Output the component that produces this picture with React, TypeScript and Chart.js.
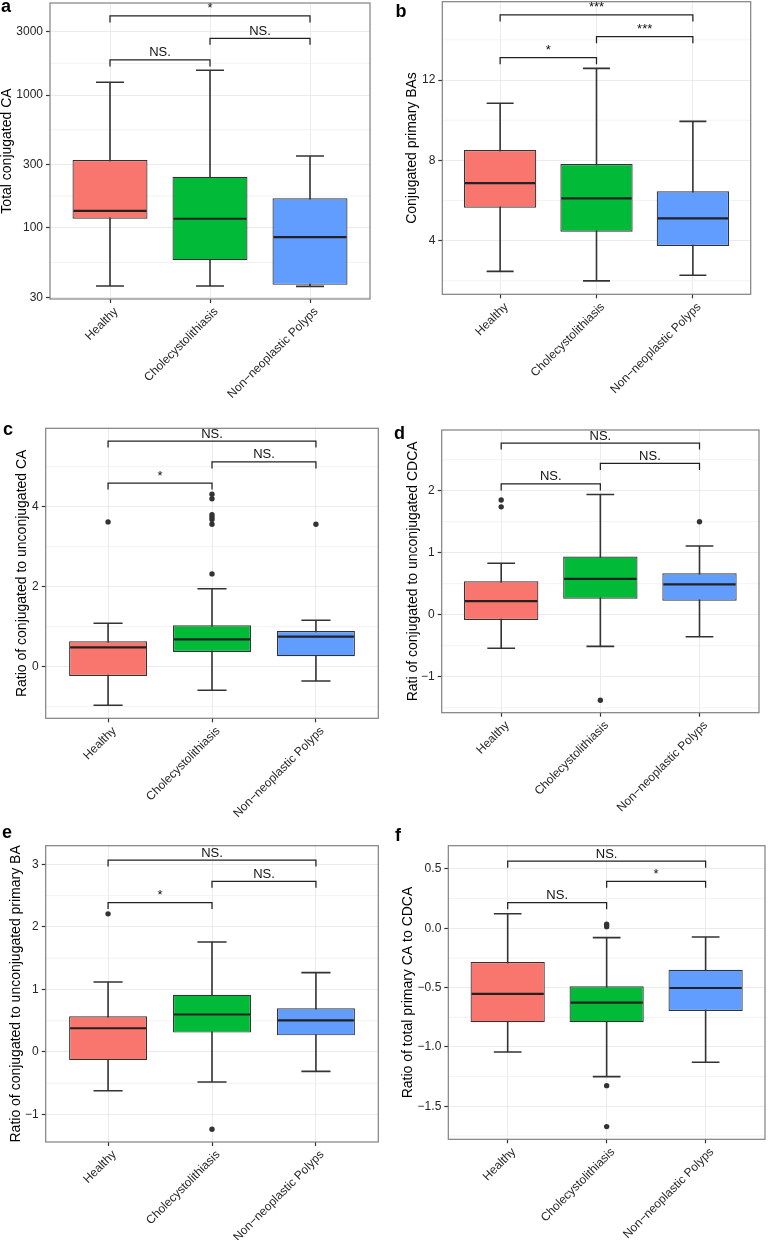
import React, { useEffect, useRef } from "react";
import { Chart, registerables } from "chart.js";
Chart.register(...registerables);

const FONT = '"Liberation Sans", Arial, Helvetica, sans-serif';

// ---------- shared ----------
const categories = ["Healthy", "Cholecystolithiasis", "Non\u2212neoplastic Polyps"];
const boxFill = ["#F8766D", "#00BA38", "#619CFF"];
const bracketPairs = [[0, 1], [1, 2], [0, 2]];

// ---------- panel a ----------
const aTitle = "Total conjugated CA";
const aLow = [36.5, 36.5, 36.2];
const aQ1 = [117, 57, 37.2];
const aMedian = [134, 117, 85];
const aQ3 = [324, 242, 167];
const aHigh = [1247, 1535, 347];
const aOutliers = [[], [], []];
const aBracketY = [1836, 2675, 3940];
const aBracketLabels = ["NS.", "NS.", "*"];
const aTicks = [30, 100, 300, 1000, 3000];
const aTickLabels = ["30", "100", "300", "1000", "3000"];
const aMinor = [54.8, 173.2, 547.7, 1732];
const aRange = [29.1, 4930];

// ---------- panel b ----------
const bTitle = "Conjugated primary BAs";
const bLow = [2.47, 2.0, 2.28];
const bQ1 = [5.64, 4.45, 3.74];
const bMedian = [6.87, 6.11, 5.11];
const bQ3 = [8.51, 7.82, 6.46];
const bHigh = [10.84, 12.58, 9.94];
const bOutliers = [[], [], []];
const bBracketY = [13.11, 14.16, 15.24];
const bBracketLabels = ["*", "***", "***"];
const bTicks = [4, 8, 12];
const bTickLabels = ["4", "8", "12"];
const bMinor = [2, 6, 10, 14];
const bRange = [1.33, 15.9];

// ---------- panel c ----------
const cTitle = "Ratio of conjugated to unconjugated CA";
const cLow = [-0.965, -0.59, -0.357];
const cQ1 = [-0.233, 0.368, 0.26];
const cMedian = [0.485, 0.685, 0.75];
const cQ3 = [0.635, 1.035, 0.893];
const cHigh = [1.085, 1.95, 1.16];
const cOutliers = [[3.62], [4.31, 4.2, 3.8, 3.74, 3.68, 3.56, 2.32], [3.56]];
const cBracketY = [4.59, 5.12, 5.64];
const cBracketLabels = ["*", "NS.", "NS."];
const cTicks = [0, 2, 4];
const cTickLabels = ["0", "2", "4"];
const cMinor = [-1, 1, 3, 5];
const cRange = [-1.29, 5.96];

// ---------- panel d ----------
const dTitle = "Rati of conjugated to unconjugated CDCA";
const dLow = [-0.54, -0.51, -0.355];
const dQ1 = [-0.085, 0.26, 0.226];
const dMedian = [0.22, 0.58, 0.49];
const dQ3 = [0.54, 0.94, 0.67];
const dHigh = [0.83, 1.94, 1.11];
const dOutliers = [[1.85, 1.74], [-1.38], [1.5]];
const dBracketY = [2.11, 2.44, 2.77];
const dBracketLabels = ["NS.", "NS.", "NS."];
const dTicks = [-1, 0, 1, 2];
const dTickLabels = ["\u22121", "0", "1", "2"];
const dMinor = [-1.5, -0.5, 0.5, 1.5, 2.5];
const dRange = [-1.58, 2.98];

// ---------- panel e ----------
const eTitle = "Ratio of conjugated to unconjugated primary BA";
const eLow = [-0.62, -0.48, -0.31];
const eQ1 = [-0.13, 0.31, 0.266];
const eMedian = [0.38, 0.6, 0.506];
const eQ3 = [0.57, 0.915, 0.7];
const eHigh = [1.12, 1.76, 1.27];
const eOutliers = [[2.21], [-1.235], []];
const eBracketY = [2.39, 2.73, 3.07];
const eBracketLabels = ["*", "NS.", "NS."];
const eTicks = [-1, 0, 1, 2, 3];
const eTickLabels = ["\u22121", "0", "1", "2", "3"];
const eMinor = [-0.5, 0.5, 1.5, 2.5];
const eRange = [-1.44, 3.3];

// ---------- panel f ----------
const fTitle = "Ratio of total primary CA to CDCA";
const fLow = [-1.042, -1.25, -1.129];
const fQ1 = [-0.792, -0.792, -0.697];
const fMedian = [-0.553, -0.627, -0.503];
const fQ3 = [-0.284, -0.489, -0.349];
const fHigh = [0.123, -0.079, -0.073];
const fOutliers = [[], [0.034, 0.014, -1.326, -1.671], []];
const fBracketY = [0.216, 0.396, 0.566];
const fBracketLabels = ["NS.", "*", "NS."];
const fTicks = [-1.5, -1, -0.5, 0, 0.5];
const fTickLabels = ["\u22121.5", "\u22121.0", "\u22120.5", "0.0", "0.5"];
const fMinor = [-1.75, -1.25, -0.75, -0.25, 0.25];
const fRange = [-1.778, 0.696];

// ---------- layout (positions/sizes only) ----------
const layouts = {
  a: { left: 0, top: 0, W: 384, H: 400, area: { l: 50, t: 3, r: 370, b: 299 }, titleX: 11, letter: [1, 12] },
  b: { left: 384, top: 0, W: 385, H: 400, area: { l: 58.3, t: 1.7, r: 366.7, b: 294.3 }, titleX: 31.5, letter: [11.5, 16.5] },
  c: { left: 0, top: 400, W: 384, H: 420, area: { l: 45.7, t: 28.3, r: 378.3, b: 318.3 }, titleX: 26, letter: [3, 35] },
  d: { left: 384, top: 400, W: 385, H: 420, area: { l: 57.7, t: 30, r: 375, b: 312.7 }, titleX: 32.5, letter: [10, 39] },
  e: { left: 0, top: 820, W: 384, H: 420, area: { l: 45.7, t: 25.7, r: 378.3, b: 322 }, titleX: 19.5, letter: [2, 18] },
  f: { left: 384, top: 820, W: 385, H: 420, area: { l: 64.3, t: 25.7, r: 382.3, b: 319.3 }, titleX: 28, letter: [11, 21] },
};

const panels = [
  { letter: "a", log: true, title: aTitle, low: aLow, q1: aQ1, med: aMedian, q3: aQ3, high: aHigh, out: aOutliers, by: aBracketY, bl: aBracketLabels, ticks: aTicks, tickLabels: aTickLabels, minor: aMinor, range: aRange },
  { letter: "b", log: false, title: bTitle, low: bLow, q1: bQ1, med: bMedian, q3: bQ3, high: bHigh, out: bOutliers, by: bBracketY, bl: bBracketLabels, ticks: bTicks, tickLabels: bTickLabels, minor: bMinor, range: bRange },
  { letter: "c", log: false, title: cTitle, low: cLow, q1: cQ1, med: cMedian, q3: cQ3, high: cHigh, out: cOutliers, by: cBracketY, bl: cBracketLabels, ticks: cTicks, tickLabels: cTickLabels, minor: cMinor, range: cRange },
  { letter: "d", log: false, title: dTitle, low: dLow, q1: dQ1, med: dMedian, q3: dQ3, high: dHigh, out: dOutliers, by: dBracketY, bl: dBracketLabels, ticks: dTicks, tickLabels: dTickLabels, minor: dMinor, range: dRange },
  { letter: "e", log: false, title: eTitle, low: eLow, q1: eQ1, med: eMedian, q3: eQ3, high: eHigh, out: eOutliers, by: eBracketY, bl: eBracketLabels, ticks: eTicks, tickLabels: eTickLabels, minor: eMinor, range: eRange },
  { letter: "f", log: false, title: fTitle, low: fLow, q1: fQ1, med: fMedian, q3: fQ3, high: fHigh, out: fOutliers, by: fBracketY, bl: fBracketLabels, ticks: fTicks, tickLabels: fTickLabels, minor: fMinor, range: fRange },
];

const CAP = 0.14;
const HALF_BOX = 0.375;
const DARK = "#333333";

function Panel({ p }: { p: any }) {
  const ref = useRef<HTMLCanvasElement>(null);
  const L = (layouts as any)[p.letter];
  useEffect(() => {
    const canvas = ref.current!;
    const { W, H, area } = L;
    const plugin = {
      id: "boxExtras" + p.letter,
      beforeDatasetsDraw(chart: any) {
        const { ctx, chartArea: ca } = chart;
        const x = chart.scales.x, y = chart.scales.y;
        ctx.save();
        ctx.strokeStyle = "#f2f2f2";
        ctx.lineWidth = 1;
        p.minor.forEach((v: number) => {
          const py = y.getPixelForValue(v);
          ctx.beginPath();
          ctx.moveTo(ca.left, py);
          ctx.lineTo(ca.right, py);
          ctx.stroke();
        });
        ctx.strokeStyle = DARK;
        ctx.lineWidth = 1.6;
        categories.forEach((_, i) => {
          const cx = x.getPixelForValue(i);
          const x0 = x.getPixelForValue(i - CAP);
          const x1 = x.getPixelForValue(i + CAP);
          const yl = y.getPixelForValue(p.low[i]);
          const yh = y.getPixelForValue(p.high[i]);
          ctx.beginPath();
          ctx.moveTo(cx, yl); ctx.lineTo(cx, yh);
          ctx.moveTo(x0, yl); ctx.lineTo(x1, yl);
          ctx.moveTo(x0, yh); ctx.lineTo(x1, yh);
          ctx.stroke();
        });
        ctx.restore();
      },
      afterDatasetsDraw(chart: any) {
        const { ctx } = chart;
        const x = chart.scales.x, y = chart.scales.y;
        ctx.save();
        ctx.strokeStyle = "#222222";
        ctx.lineWidth = 2.2;
        categories.forEach((_, i) => {
          const py = y.getPixelForValue(p.med[i]);
          ctx.beginPath();
          ctx.moveTo(x.getPixelForValue(i - HALF_BOX) + 1, py);
          ctx.lineTo(x.getPixelForValue(i + HALF_BOX) - 1, py);
          ctx.stroke();
        });
        ctx.restore();
      },
      afterDraw(chart: any) {
        const { ctx, chartArea: ca } = chart;
        const x = chart.scales.x, y = chart.scales.y;
        ctx.save();
        // frame
        ctx.strokeStyle = "#808080";
        ctx.lineWidth = 1.2;
        ctx.strokeRect(ca.left, ca.top, ca.right - ca.left, ca.bottom - ca.top);
        // significance brackets
        ctx.strokeStyle = "#222222";
        ctx.lineWidth = 1.25;
        ctx.fillStyle = "#111111";
        ctx.font = `13px ${FONT}`;
        ctx.textAlign = "center";
        ctx.textBaseline = "alphabetic";
        bracketPairs.forEach(([i, j], k) => {
          const x1 = x.getPixelForValue(i), x2 = x.getPixelForValue(j);
          const py = y.getPixelForValue(p.by[k]);
          const tip = 6.5;
          ctx.beginPath();
          ctx.moveTo(x1, py + tip);
          ctx.lineTo(x1, py);
          ctx.lineTo(x2, py);
          ctx.lineTo(x2, py + tip);
          ctx.stroke();
          ctx.fillText(p.bl[k], (x1 + x2) / 2, py - 3.5);
        });
        // category labels
        ctx.fillStyle = "#262626";
        ctx.font = `12px ${FONT}`;
        ctx.textAlign = "right";
        ctx.textBaseline = "top";
        categories.forEach((c, i) => {
          const px = x.getPixelForValue(i);
          ctx.save();
          ctx.translate(px + 2, ca.bottom + 6.5);
          ctx.rotate(-Math.PI / 4);
          ctx.fillText(c, 0, 0);
          ctx.restore();
        });
        // y title
        ctx.fillStyle = "#000000";
        ctx.font = `14px ${FONT}`;
        ctx.textAlign = "center";
        ctx.textBaseline = "alphabetic";
        ctx.save();
        ctx.translate(L.titleX, (ca.top + ca.bottom) / 2);
        ctx.rotate(-Math.PI / 2);
        ctx.fillText(p.title, 0, 0);
        ctx.restore();
        // panel letter
        ctx.font = `bold 18px ${FONT}`;
        ctx.textAlign = "left";
        ctx.fillText(p.letter, L.letter[0], L.letter[1]);
        ctx.restore();
      },
    };

    const outlierPoints: { x: number; y: number }[] = [];
    p.out.forEach((arr: number[], i: number) => arr.forEach((v) => outlierPoints.push({ x: i, y: v })));

    const chart = new Chart(canvas, {
      type: "bar",
      data: {
        datasets: [
          {
            type: "bar",
            data: categories.map((_, i) => ({ x: i, y: [p.q1[i], p.q3[i]] })) as any,
            backgroundColor: boxFill,
            borderColor: DARK,
            borderWidth: 1.2,
            borderSkipped: false,
            barPercentage: 0.75,
            categoryPercentage: 1,
            order: 2,
          } as any,
          {
            type: "scatter",
            data: outlierPoints,
            pointRadius: 2.7,
            pointBackgroundColor: DARK,
            pointBorderWidth: 0,
            backgroundColor: DARK,
            borderWidth: 0,
            order: 1,
          } as any,
        ],
      },
      options: {
        animation: false,
        responsive: false,
        devicePixelRatio: 1,
        events: [],
        layout: { padding: { top: area.t, left: 0, right: W - area.r, bottom: 0 } },
        plugins: { legend: { display: false }, tooltip: { enabled: false }, title: { display: false } },
        scales: {
          x: {
            type: "linear",
            min: -0.6,
            max: 2.6,
            offset: false,
            bounds: "data",
            afterBuildTicks: (s: any) => {
              s.ticks = categories.map((_, i) => ({ value: i }));
            },
            afterFit: (s: any) => {
              s.height = H - area.b;
              s.paddingLeft = 0; s.paddingRight = 0; s.paddingTop = 0; s.paddingBottom = 0;
            },
            grid: { color: "#ebebeb", lineWidth: 1, offset: false, drawTicks: true, tickLength: 4, tickColor: DARK, tickWidth: 1.2 },
            border: { display: false },
            ticks: { display: false },
          },
          y: {
            type: p.log ? "logarithmic" : "linear",
            min: p.range[0],
            max: p.range[1],
            bounds: "data",
            beginAtZero: false,
            afterBuildTicks: (s: any) => {
              s.ticks = p.ticks.map((v: number) => ({ value: v }));
            },
            afterFit: (s: any) => {
              s.width = area.l;
              s.paddingLeft = 0; s.paddingRight = 0; s.paddingTop = 0; s.paddingBottom = 0;
            },
            grid: { color: "#ebebeb", lineWidth: 1, drawTicks: true, tickLength: 4, tickColor: DARK, tickWidth: 1.2 },
            border: { display: false },
            ticks: {
              color: "#262626",
              font: { family: FONT, size: 12 },
              padding: 3,
              autoSkip: false,
              callback: (_v: any, i: number) => p.tickLabels[i],
            },
          },
        } as any,
      },
      plugins: [plugin],
    } as any);
    return () => chart.destroy();
  }, []);
  return (
    <canvas
      ref={ref}
      width={L.W}
      height={L.H}
      style={{ position: "absolute", left: L.left, top: L.top, width: L.W, height: L.H }}
    />
  );
}

export default function App() {
  return (
    <div style={{ position: "absolute", left: 0, top: 0, width: 769, height: 1240, background: "#ffffff", overflow: "hidden" }}>
      {panels.map((p) => (
        <Panel key={p.letter} p={p} />
      ))}
    </div>
  );
}
